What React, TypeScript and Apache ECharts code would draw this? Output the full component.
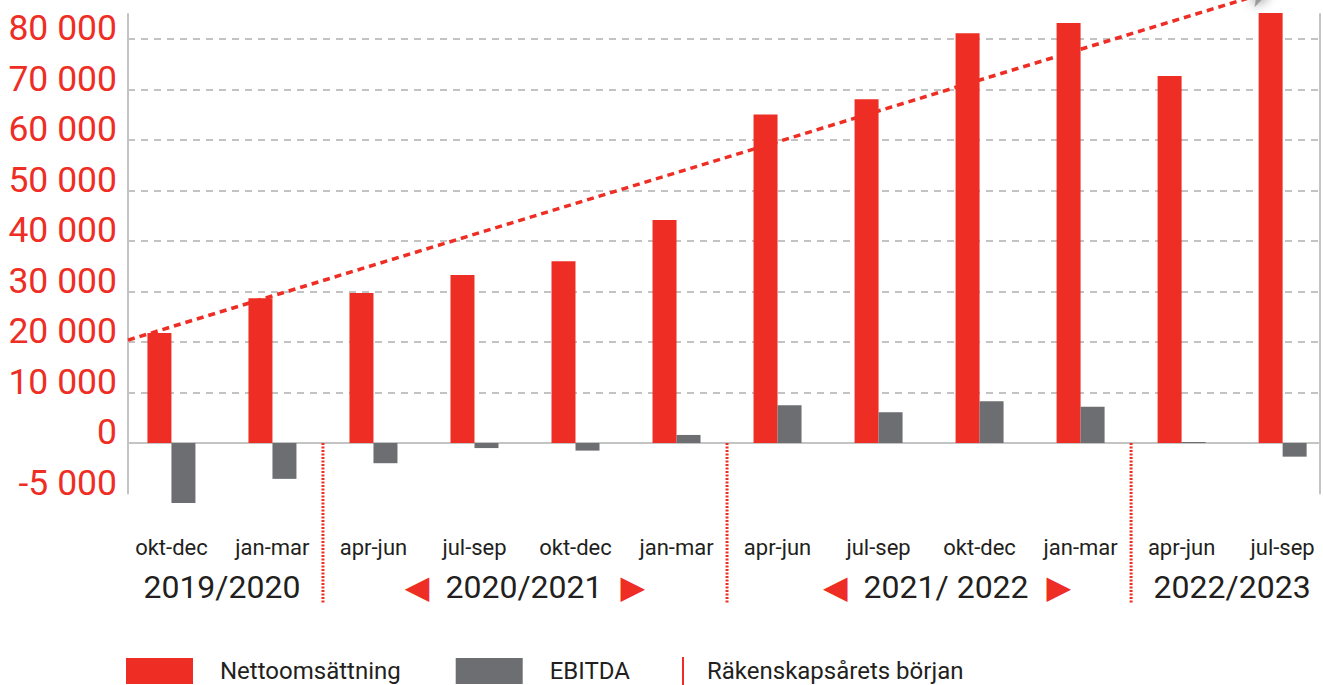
import React, { useEffect, useRef } from "react";
import * as echarts from "echarts";

// ---- data ----
const quarters = [
  "okt-dec", "jan-mar", "apr-jun", "jul-sep", "okt-dec", "jan-mar",
  "apr-jun", "jul-sep", "okt-dec", "jan-mar", "apr-jun", "jul-sep",
];
const netSales = [21800, 28700, 29700, 33300, 36000, 44200, 65100, 68100, 81200, 83200, 72700, 85200];
const ebitda = [-11900, -7100, -4000, -1000, -1500, 1600, 7500, 6100, 8300, 7200, 200, -2700];

const fiscalYears = ["2019/2020", "2020/2021", "2021/ 2022", "2022/2023"];
const fiscalFirst = [0, 2, 6, 10];
const fiscalLast = [1, 5, 9, 11];
const fiscalArrows = [false, true, true, false];

const trendX = [-0.43, 10.88];
const trendY = [20400, 89500];

const yTickValues = [-10000, 0, 10000, 20000, 30000, 40000, 50000, 60000, 70000, 80000];
const yTickLabels = ["-5 000", "0", "10 000", "20 000", "30 000", "40 000", "50 000", "60 000", "70 000", "80 000"];

const RED = "#EE2E24";
const GRAY = "#6D6E71";
const DARK = "#231F20";
const AXIS = "#C4C4C4";

const X_MIN = -0.43;
const X_MAX = 11.37;

export default function App() {
  const ref = useRef<HTMLDivElement>(null);

  useEffect(() => {
    if (!ref.current) return;
    const chart = echarts.init(ref.current, undefined, { renderer: "svg" });

    const fyCenters = fiscalFirst.map((f, i) => (f + fiscalLast[i]) / 2);
    const fyStarts = fiscalFirst.slice(1).map((f) => f - 0.5);

    const option: any = {
      animation: false,
      textStyle: { fontFamily: "Roboto" },
      grid: { left: 128, right: 3, top: 14, bottom: 191.5, containLabel: false },
      legend: [
        {
          data: [
            { name: "Nettoomsättning", icon: "rect" },
            { name: "EBITDA", icon: "rect" },
          ],
          left: 126,
          top: 658,
          padding: 0,
          itemWidth: 67,
          itemHeight: 26,
          itemGap: 55,
          selectedMode: false,
          textStyle: { fontSize: 24, color: DARK, fontFamily: "Roboto", padding: [0, 0, 0, 22] },
        },
        {
          data: [{ name: "Räkenskapsårets början", icon: "rect" }],
          left: 682,
          top: 657,
          padding: 0,
          itemWidth: 2,
          itemHeight: 28,
          selectedMode: false,
          textStyle: { fontSize: 24, color: DARK, fontFamily: "Roboto", padding: [0, 0, 0, 18] },
        },
      ],
      xAxis: [
        {
          type: "value",
          min: X_MIN,
          max: X_MAX,
          axisLine: { show: true, onZero: true, lineStyle: { color: AXIS, width: 2 } },
          axisTick: { show: false },
          splitLine: { show: false },
          axisLabel: {
            customValues: quarters.map((_, i) => i),
            formatter: (v: number) => quarters[Math.round(v)] ?? "",
            margin: 43,
            fontSize: 22,
            color: DARK,
            fontFamily: "Roboto",
          },
        },
        {
          type: "value",
          min: X_MIN,
          max: X_MAX,
          position: "bottom",
          axisLine: { show: false, onZero: false },
          axisTick: { show: false },
          splitLine: { show: false },
          axisLabel: {
            customValues: fyCenters,
            margin: 77,
            formatter: (v: number) => {
              const i = fyCenters.findIndex((c) => Math.abs(c - v) < 0.01);
              if (i < 0) return "";
              if (!fiscalArrows[i]) return `{yr|${fiscalYears[i]}}`;
              const l = i === 2 ? "al2" : "al";
              return `{${l}|◀}{yr|${fiscalYears[i]}}{ar|▶}`;
            },
            rich: {
              yr: { fontSize: 32, color: DARK, fontFamily: "Roboto" },
              al: { fontSize: 32, color: RED, fontFamily: "DejaVu Sans", padding: [0, 16, 0, 0] },
              al2: { fontSize: 32, color: RED, fontFamily: "DejaVu Sans", padding: [0, 16, 0, 36] },
              ar: { fontSize: 32, color: RED, fontFamily: "DejaVu Sans", padding: [0, 0, 0, 18] },
            },
          },
        },
      ],
      yAxis: [
        {
          type: "value",
          min: -10000,
          max: 85000,
          interval: 10000,
          position: "left",
          axisLine: { show: true, onZero: false, lineStyle: { color: AXIS, width: 2 } },
          axisTick: { show: false },
          axisLabel: {
            showMaxLabel: false,
            formatter: (v: number) => {
              const i = yTickValues.indexOf(v);
              return i >= 0 ? yTickLabels[i] : "";
            },
            color: RED,
            fontSize: 35.5,
            lineHeight: 22,
            verticalAlign: "bottom",
            fontFamily: "Roboto",
            margin: 11,
          },
          splitLine: {
            show: true,
            showMinLine: false,
            showMaxLine: false,
            lineStyle: { color: "#B0B0B0", width: 1.5, type: [7, 6] },
          },
        },
        {
          type: "value",
          min: -10000,
          max: 85000,
          interval: 10000,
          position: "right",
          axisLine: { show: true, onZero: false, lineStyle: { color: AXIS, width: 2 } },
          axisTick: { show: false },
          axisLabel: { show: false },
          splitLine: { show: false },
        },
      ],
      series: [
        {
          name: "Nettoomsättning",
          type: "bar",
          xAxisIndex: 0,
          yAxisIndex: 0,
          barWidth: 24,
          barGap: "0%",
          clip: false,
          itemStyle: { color: RED },
          data: netSales.map((v, i) => [i, v]),
        },
        {
          name: "EBITDA",
          type: "bar",
          xAxisIndex: 0,
          yAxisIndex: 0,
          barWidth: 24,
          barGap: "0%",
          clip: false,
          itemStyle: { color: GRAY },
          data: ebitda.map((v, i) => [i, v]),
        },
        {
          name: "trend",
          type: "line",
          xAxisIndex: 0,
          yAxisIndex: 0,
          clip: false,
          silent: true,
          lineStyle: { color: RED, width: 3.5, type: [7, 5] },
          data: [
            { value: [trendX[0], trendY[0]], symbol: "none" },
            {
              value: [trendX[1], trendY[1]],
              symbol: "arrow",
              symbolSize: [16, 20],
              symbolRotate: -73,
              itemStyle: { color: "#9a9a9a", shadowBlur: 12, shadowColor: "rgba(0,0,0,0.55)" },
            },
          ],
        },
        {
          name: "Räkenskapsårets början",
          type: "custom",
          xAxisIndex: 0,
          yAxisIndex: 0,
          clip: false,
          silent: true,
          itemStyle: { color: RED },
          encode: { x: 0, y: 1 },
          data: fyStarts.map((x) => [x, 0]),
          renderItem: (_params: any, api: any) => {
            const p = api.coord([api.value(0), 0]);
            return {
              type: "line",
              shape: { x1: p[0], y1: p[1], x2: p[0], y2: p[1] + 160 },
              style: { stroke: RED, lineWidth: 3, lineDash: [2, 1.5] },
            };
          },
        },
      ],
    };

    chart.setOption(option);
    return () => chart.dispose();
  }, []);

  return (
    <div
      ref={ref}
      style={{ position: "fixed", left: 0, top: 0, width: 1323, height: 685, background: "#fff" }}
    />
  );
}
